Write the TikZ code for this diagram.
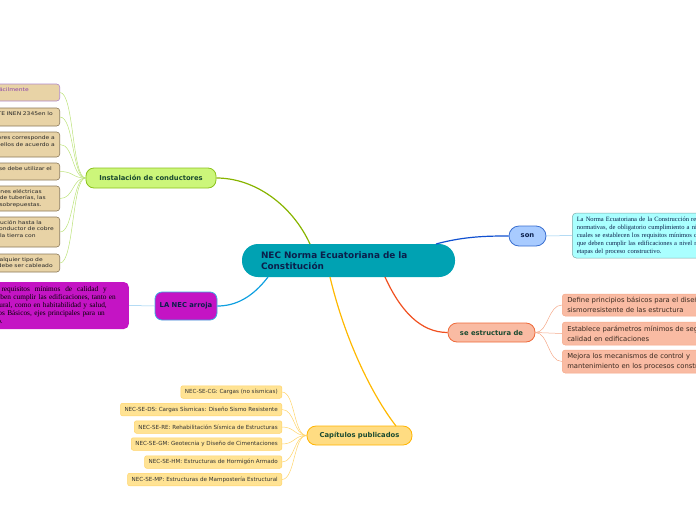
\documentclass[tikz,border=0pt]{standalone}
\usepackage{fontspec}
\setmainfont{DejaVu Sans}
\newfontfamily\seriffont{Liberation Serif}
\newfontfamily\tanfont[FakeStretch=1.2]{DejaVu Sans}
\definecolor{cteal}{HTML}{00A2B3}
\definecolor{cnavy}{HTML}{0B1F4B}
\definecolor{cinstfill}{HTML}{CCF67A}
\definecolor{cinstdraw}{HTML}{8CC21E}
\definecolor{cinstline}{HTML}{88B400}
\definecolor{cleafgreen}{HTML}{BCE27A}
\definecolor{ctan}{HTML}{E8D3A6}
\definecolor{ctandraw}{HTML}{8C7A5A}
\definecolor{cpurple}{HTML}{B088C8}
\definecolor{cpurtext}{HTML}{8A44AA}
\definecolor{cmag}{HTML}{C414C4}
\definecolor{clanedraw}{HTML}{3AAEE0}
\definecolor{claneline}{HTML}{10A0E0}
\definecolor{clightblue}{HTML}{8CC8EE}
\definecolor{csonfill}{HTML}{A8CBFF}
\definecolor{csondraw}{HTML}{3A6FD0}
\definecolor{csonline}{HTML}{1050D0}
\definecolor{ccyan}{HTML}{AAFFFF}
\definecolor{ccyandraw}{HTML}{7FA8A8}
\definecolor{csalmon}{HTML}{F9BBA3}
\definecolor{csedraw}{HTML}{EE6A3A}
\definecolor{cseline}{HTML}{F05020}
\definecolor{csalmondraw}{HTML}{F5A888}
\definecolor{ccapfill}{HTML}{FFDC82}
\definecolor{ccapdraw}{HTML}{FFB400}
\definecolor{ccapline}{HTML}{FFB800}
\definecolor{cchfill}{HTML}{FFE394}
\definecolor{cchdraw}{HTML}{FFD46A}
\definecolor{cdarkgreen}{HTML}{1A4A30}
\definecolor{cdarktext}{HTML}{3A2A20}
\newcommand{\padr}[1]{\hspace{#1}\mbox{}}
\begin{document}
\begin{tikzpicture}[x=1pt,y=-1pt,
  central/.style={rounded corners=16pt, fill=cteal, minimum width=213pt, minimum height=33pt,
    text width=175pt, align=left, inner xsep=19pt, text=cnavy,
    font=\fontsize{8.9}{11}\selectfont\bfseries},
  branch/.style={rounded corners=8pt, line width=0.8pt, font=\fontsize{6.8}{8}\selectfont\bfseries, inner sep=0pt},
  tanbox/.style={fill=ctan, draw=ctandraw, line width=0.6pt, rounded corners=3pt, anchor=east,
    align=right, text width=260pt, inner ysep=0pt, font=\tanfont\fontsize{5}{6.5}\selectfont, text=black!85},
  chbox/.style={fill=cchfill, draw=cchdraw, line width=0.5pt, rounded corners=2pt, anchor=east,
    inner xsep=4pt, inner ysep=0pt, minimum height=12.5pt, font=\fontsize{5.6}{6.5}\selectfont, text=black!80},
  sabox/.style={fill=csalmon, draw=csalmondraw, line width=0.5pt, rounded corners=3pt, anchor=west,
    align=left, text width=200pt, inner xsep=5pt, inner ysep=0pt,
    font=\fontsize{6.8}{10}\selectfont, text=cdarktext},
  mainline/.style={line width=1.2pt},
  leafline/.style={line width=0.5pt}
]
\useasboundingbox (0,0) rectangle (696,520);
\clip (0,0) rectangle (696,520);

% central
\node[central] (nec) at (348.5,260.5) {NEC Norma Ecuatoriana de la\\Constitución};
\coordinate (pInst) at (310,244);
\coordinate (pLa) at (268,277);
\coordinate (pSon) at (436,244);
\coordinate (pSe) at (385,277);
\coordinate (pCap) at (330,277);
\coordinate (pCapEnd) at (396,426);

% Instalacion de conductores
\node[branch, fill=cinstfill, draw=cinstdraw, minimum width=130pt, minimum height=20pt, text=cdarkgreen] (inst) at (151,178) {Instalación de conductores};

\node[tanbox, draw=cpurple, text=cpurtext, inner xsep=31pt, minimum height=17pt] (b1) at (60,92.5) {ser identificado fácilmente\\\mbox{}};
\node[tanbox, inner xsep=7pt, minimum height=18pt] (b2) at (60,117) {la norma NTE INEN 2345en lo\\\mbox{}};
\node[tanbox, inner xsep=5pt, minimum height=25pt] (b3) at (60,144.5) {los conductores corresponde a\\cada uno de ellos de acuerdo a\\\mbox{}};
\node[tanbox, inner xsep=8pt, minimum height=17pt] (b4) at (60,171.5) {Para los conductores se debe utilizar el\\\mbox{}};
\node[tanbox, inner xsep=14pt, minimum height=25pt] (b5) at (60,198.5) {Las instalaciones eléctricas\padr{4pt}\\dentro de tuberías, las\\sobrepuestas.\padr{4pt}};
\node[tanbox, inner xsep=6pt, minimum height=30pt] (b6) at (60,232) {Desde la acometida de distribución hasta la\padr{12pt}\\con conductor de cobre\\puesta a la tierra con\padr{18pt}\\\mbox{}};
\node[tanbox, inner xsep=7pt, minimum height=18pt] (b7) at (60,263) {Para cualquier tipo de\padr{10pt}\\instalación, debe ser cableado};

\foreach \b in {b1,b2,b3,b4,b5,b6,b7}{
  \draw[leafline, cleafgreen] (\b.east) .. controls +(14,0) and (72,178) .. (inst.west);
}
\draw[mainline, cinstline] (pInst) .. controls (292,205) and (255,178) .. (inst.east);

% LA NEC arroja
\node[branch, fill=cmag, draw=clanedraw, rounded corners=7pt, minimum width=62pt, minimum height=28pt, text=cnavy] (lanec) at (186,306) {LA NEC arroja};
\node[fill=cmag, rounded corners=5pt, anchor=east, align=right, text width=300pt, inner xsep=13pt, inner ysep=0pt,
  minimum height=47pt, text=black, font=\seriffont\fontsize{7.3}{8}\selectfont] (mag) at (129,305.5)
  {que se establecen los\hspace{5pt} requisitos\hspace{2.5pt} mínimos\hspace{2.5pt} de\hspace{2.5pt} calidad\hspace{2.5pt} y\padr{9pt}\\que deben cumplir las edificaciones, tanto en\\estructural, como en habitabilidad y salud,\padr{9pt}\\Requisitos Básicos, ejes principales para un\padr{11pt}\\desarrollo.\padr{113pt}};
\draw[leafline, clightblue] (mag.east) -- (lanec.west);
\draw[mainline, claneline] (pLa) .. controls (252,298) and (235,306) .. (lanec.east);

% son
\node[branch, fill=csonfill, draw=csondraw, rounded corners=10pt, minimum width=37pt, minimum height=20pt, text=cnavy] (son) at (527.5,236) {son};
\node[fill=ccyan, draw=ccyandraw, line width=0.5pt, rounded corners=4pt, anchor=west, align=left, text width=200pt,
  inner xsep=4.5pt, inner ysep=0pt, minimum height=45pt, text=cnavy, font=\seriffont\fontsize{6.5}{8}\selectfont] (cyan) at (572,235.5)
  {La Norma Ecuatoriana de la Construcción recoge las\\normativas, de obligatorio cumplimiento a nivel nacional, en las\\cuales se establecen los requisitos mínimos de seguridad y calidad\\que deben cumplir las edificaciones a nivel nacional en todas las\\etapas del proceso constructivo.};
\draw[leafline, clightblue] (son.east) -- (cyan.west);
\draw[mainline, csonline] (pSon) .. controls (465,236) and (490,236) .. (son.west);

% se estructura de
\node[branch, fill=csalmon, draw=csedraw, rounded corners=9pt, minimum width=87pt, minimum height=19pt, text=cdarkgreen] (se) at (491.5,332.5) {se estructura de};
\node[sabox, minimum height=22pt] (s1) at (562,305) {Define principios básicos para el diseño\\sismorresistente de las estructura};
\node[sabox, minimum height=23pt] (s2) at (562,333.5) {Establece parámetros mínimos de seguridad y\\calidad en edificaciones};
\node[sabox, minimum height=23pt] (s3) at (562,361.5) {Mejora los mecanismos de control y\\mantenimiento en los procesos constructivos};
\foreach \s in {s1,s2,s3}{
  \draw[leafline, csalmondraw] (se.east) .. controls +(13,0) and +(-14,0) .. (\s.west);
}
\draw[mainline, cseline] (pSe) .. controls (400,310) and (420,332.5) .. (se.west);

% Capitulos publicados
\node[branch, fill=ccapfill, draw=ccapdraw, rounded corners=9pt, minimum width=105pt, minimum height=19pt, text=cdarkgreen] (cap) at (359.5,435.5) {Capítulos publicados};
\node[chbox] (c1) at (282,392) {NEC-SE-CG: Cargas (no sísmicas)};
\node[chbox] (c2) at (282,409.5) {NEC-SE-DS: Cargas Sísmicas: Diseño Sismo Resistente};
\node[chbox] (c3) at (282,427) {NEC-SE-RE: Rehabilitación Sísmica de Estructuras};
\node[chbox] (c4) at (282,444) {NEC-SE-GM: Geotecnia y Diseño de Cimentaciones};
\node[chbox] (c5) at (282,462) {NEC-SE-HM: Estructuras de Hormigón Armado};
\node[chbox] (c6) at (282,479.5) {NEC-SE-MP: Estructuras de Mampostería Estructural};
\foreach \c in {c1,c2,c3,c4,c5,c6}{
  \draw[leafline, cchdraw] (cap.west) .. controls +(-13,0) and +(13,0) .. (\c.east);
}
\draw[mainline, ccapline] (pCap) .. controls (345,340) and (372,395) .. (pCapEnd);
\end{tikzpicture}
\end{document}
